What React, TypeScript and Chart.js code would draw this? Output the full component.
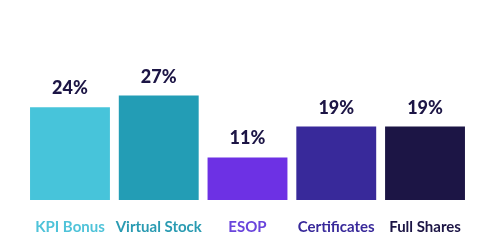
import React, { useEffect, useRef } from "react";
import { Chart, registerables } from "chart.js";

Chart.register(...registerables);

const categories = ["KPI Bonus", "Virtual Stock", "ESOP", "Certificates", "Full Shares"];
const values = [24, 27, 11, 19, 19];
const valueLabels = ["24%", "27%", "11%", "19%", "19%"];
const barColors = ["#47C4DA", "#239DB5", "#6D31E4", "#38299A", "#1C1545"];
const labelColors = ["#4FC3D9", "#2A9BB2", "#6A45DC", "#38299A", "#1C1545"];

const FONT = "Lato, 'Open Sans', sans-serif";

const valueLabelPlugin = {
  id: "valueLabels",
  afterDatasetsDraw(chart: any) {
    const ctx = chart.ctx;
    const meta = chart.getDatasetMeta(0);
    ctx.save();
    ctx.font = `900 18px ${FONT}`;
    ctx.fillStyle = "#1C1545";
    ctx.textAlign = "center";
    ctx.textBaseline = "alphabetic";
    meta.data.forEach((bar: any, i: number) => {
      ctx.fillText(valueLabels[i], bar.x, bar.y - 13);
    });
    ctx.restore();
  },
};

export default function App() {
  const ref = useRef<HTMLCanvasElement>(null);
  useEffect(() => {
    if (!ref.current) return;
    const chart = new Chart(ref.current, {
      type: "bar",
      data: {
        labels: categories,
        datasets: [
          {
            data: values,
            backgroundColor: barColors,
            borderWidth: 0,
            barPercentage: 0.9,
            categoryPercentage: 1,
          },
        ],
      },
      options: {
        responsive: false,
        animation: false,
        layout: { padding: { top: 84, left: 25.6, right: 26.6, bottom: 12 } },
        plugins: { legend: { display: false }, tooltip: { enabled: false } },
        scales: {
          x: {
            grid: { display: false, drawTicks: false },
            border: { display: false },
            afterFit: (s: any) => {
              s.height = 33;
            },
            ticks: {
              padding: 18,
              color: labelColors,
              font: { family: FONT, size: 15, weight: "bold" },
              maxRotation: 0,
              autoSkip: false,
            },
          },
          y: {
            display: false,
            min: 0,
            max: 30,
          },
        },
      },
      plugins: [valueLabelPlugin],
    });
    return () => chart.destroy();
  }, []);
  return (
    <div style={{ position: "fixed", left: 0, top: 0, width: 496, height: 245, background: "#fff" }}>
      <canvas ref={ref} width={496} height={245} style={{ display: "block" }} />
    </div>
  );
}
